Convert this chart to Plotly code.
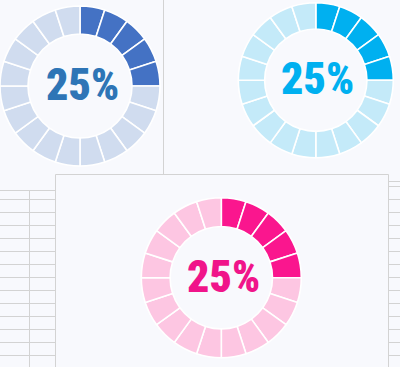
import plotly.graph_objects as go

# ---- data ----
labels = ["Chart A", "Chart B", "Chart C"]
percents = [25, 25, 25]
segments = 20
dark_colors = ["#4472C4", "#00B0F0", "#FA168E"]
light_colors = ["#D0DCEF", "#C4EAF9", "#FDC6E2"]
text_colors = ["#2E75B6", "#00B0F0", "#F0148A"]

W, H = 400, 367
BG = "#F8F9FD"
GRID = "#D3D3D3"
FONT = "Roboto Condensed, DejaVu Sans Condensed, sans-serif"

# donut geometry in pixels: (cx, cy, r)
geo = [(80.0, 86.0, 80.0), (315.8, 80.2, 77.5), (221.3, 277.7, 80.0)]
holes = [0.65, 0.66, 0.64]

def clamp(v):
    return min(1.0, max(0.0, v))

fig = go.Figure()
for i, (pct, (cx, cy, r)) in enumerate(zip(percents, geo)):
    filled = round(pct / 100 * segments)
    vals = [1] * segments
    cols = [dark_colors[i] if k < filled else light_colors[i] for k in range(segments)]
    fig.add_trace(go.Pie(
        values=vals,
        labels=[f"{labels[i]} {k}" for k in range(segments)],
        sort=False, direction="clockwise", rotation=0,
        hole=holes[i], textinfo="none", hoverinfo="skip",
        marker=dict(colors=cols, line=dict(color="white", width=1.6)),
        domain=dict(x=[clamp((cx - r) / W), clamp((cx + r) / W)],
                    y=[clamp(1 - (cy + r) / H), clamp(1 - (cy - r) / H)]),
        showlegend=False,
    ))
    fig.add_annotation(
        x=(cx + 2) / W, y=1 - (cy - 1) / H, xref="paper", yref="paper",
        text=f"{pct}%", showarrow=False,
        font=dict(family=FONT, size=44, weight=900, color=text_colors[i]),
        xanchor="center", yanchor="middle",
    )

shapes = []
def hline(x0, x1, y):
    shapes.append(dict(type="line", xref="paper", yref="paper", x0=x0 / W, x1=x1 / W,
                       y0=1 - y / H, y1=1 - y / H, line=dict(color=GRID, width=1), layer="below"))
def vline(x, y0, y1):
    shapes.append(dict(type="line", xref="paper", yref="paper", x0=x / W, x1=x / W,
                       y0=1 - y0 / H, y1=1 - y1 / H, line=dict(color=GRID, width=1), layer="below"))

# top divider
vline(163.5, 0, 174.5)
# bottom panel border
hline(55.5, 388.5, 174.5)
vline(55.5, 174.5, 367)
vline(388.5, 174.5, 367)
# spreadsheet gridlines left
for y in [190.5, 199.5] + [212.5 + 13 * k for k in range(12)]:
    hline(0, 55.5, y)
vline(29.5, 190.5, 367)
# spreadsheet gridlines right
for y in [181.5, 186.5] + [199.5 + 13 * k for k in range(13)]:
    hline(388.5, 400, y)

fig.update_layout(
    width=W, height=H, margin=dict(l=0, r=0, t=0, b=0),
    paper_bgcolor=BG, plot_bgcolor=BG, shapes=shapes,
)
fig.write_html("out.html", config={"displayModeBar": False},
               post_script="document.body.style.margin='0';document.body.style.overflow='hidden';")
